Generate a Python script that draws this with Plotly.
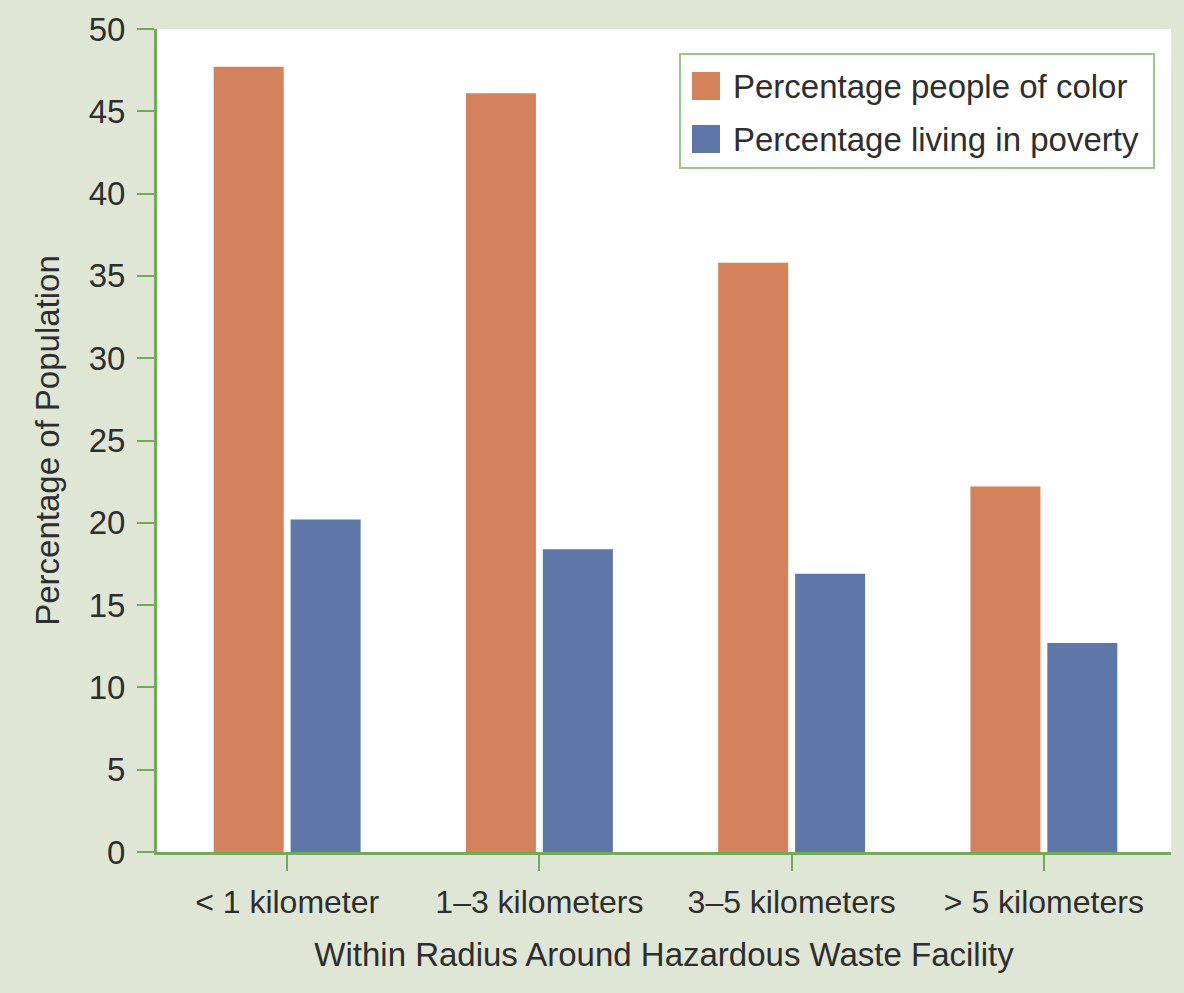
import plotly.graph_objects as go

# Distance bands around a hazardous waste facility
categories = ["< 1 kilometer", "1\u20133 kilometers", "3\u20135 kilometers", "> 5 kilometers"]

# Share of the population within each band (%)
people_of_color = [47.7, 46.1, 35.8, 22.2]
living_in_poverty = [20.2, 18.4, 16.9, 12.7]

series_names = ["Percentage people of color", "Percentage living in poverty"]
series_colors = ["#d3825c", "#5f76a9"]

W, H = 1184, 993
ML, MR, MT, MB = 157, 13, 29, 141
PW, PH = W - ML - MR, H - MT - MB

BG = "#dfe6d5"
AXIS_GREEN = "#72ab58"
TEXT = "#2e2e2e"
FONT = "Liberation Sans, Arial, Helvetica, sans-serif"

fig = go.Figure()
for name, vals, col in zip(series_names, [people_of_color, living_in_poverty], series_colors):
    fig.add_trace(go.Bar(
        x=list(range(len(categories))), y=vals, name=name,
        marker=dict(color=col, line=dict(width=0)),
        showlegend=False,
    ))


def px_x(p):
    return (p - ML) / PW


def px_y(p):
    return (H - MB - p) / PH


# Legend drawn as shapes + annotations so the swatches can be large squares
shapes = [dict(
    type="rect", xref="paper", yref="paper",
    x0=px_x(680), x1=px_x(1154), y0=px_y(168), y1=px_y(54),
    line=dict(color="#9cc68a", width=2), fillcolor="white", layer="above",
)]
annotations = []
rows_y = [86, 139]
for name, col, cy in zip(series_names, series_colors, rows_y):
    shapes.append(dict(
        type="rect", xref="paper", yref="paper",
        x0=px_x(692), x1=px_x(720), y0=px_y(cy + 14), y1=px_y(cy - 14),
        line=dict(width=0), fillcolor=col, layer="above",
    ))
    annotations.append(dict(
        xref="paper", yref="paper", x=px_x(731), y=px_y(cy),
        xanchor="left", yanchor="middle", showarrow=False,
        text=name, font=dict(size=33, color=TEXT, family=FONT),
    ))

fig.update_layout(
    width=W, height=H,
    margin=dict(l=ML, r=MR, t=MT, b=MB),
    paper_bgcolor=BG, plot_bgcolor="white",
    barmode="group", bargap=0.39, bargroupgap=0.09,
    font=dict(family=FONT, color=TEXT),
    shapes=shapes, annotations=annotations,
    xaxis=dict(
        range=[-0.516, 3.504],
        tickmode="array", tickvals=list(range(len(categories))), ticktext=categories,
        showgrid=False, zeroline=False,
        showline=True, linecolor=AXIS_GREEN, linewidth=3,
        ticks="outside", ticklen=16, tickwidth=2, tickcolor=AXIS_GREEN,
        tickfont=dict(size=32, color=TEXT),
        ticklabelstandoff=4,
        title=dict(text="Within Radius Around Hazardous Waste Facility",
                   font=dict(size=33, color=TEXT), standoff=24),
    ),
    yaxis=dict(
        range=[0, 50], tickmode="linear", tick0=0, dtick=5,
        showgrid=False, zeroline=False,
        showline=True, linecolor=AXIS_GREEN, linewidth=3,
        ticks="outside", ticklen=17, tickwidth=2, tickcolor=AXIS_GREEN,
        tickfont=dict(size=33, color=TEXT),
        ticklabelstandoff=5,
        title=dict(text="Percentage of Population",
                   font=dict(size=33, color=TEXT), standoff=20),
    ),
)

fig.write_html("out.html")
